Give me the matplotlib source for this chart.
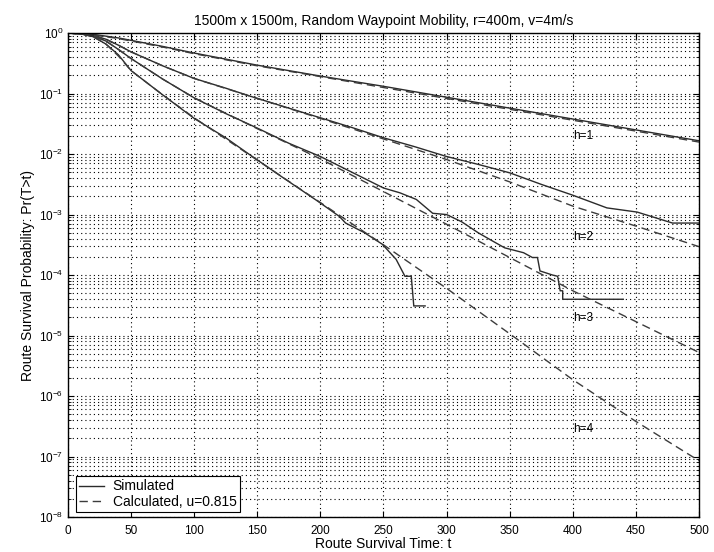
import matplotlib
matplotlib.use("Agg")
import matplotlib.pyplot as plt
from matplotlib.ticker import FixedLocator, LogLocator, MultipleLocator, NullFormatter

plt.rcParams["font.family"] = ["Liberation Sans", "DejaVu Sans"]
plt.rcParams["mathtext.default"] = "regular"

# --- values --------------------------------------------------------------
# simulated curves (t, Pr(T>t))
h1_sim_t = [0, 10, 20, 30, 40, 50, 75, 100, 150, 200, 250, 300, 350, 400, 450, 500]
h1_sim_p = [1.0, 0.977, 0.955, 0.891, 0.832, 0.759, 0.603, 0.468, 0.295, 0.195,
            0.132, 0.0871, 0.0575, 0.0380, 0.0251, 0.0166]

h2_sim_t = [0, 10, 20, 30, 40, 50, 75, 100, 125, 144, 175, 200, 225, 250, 275, 300,
            325, 350, 375, 400, 427, 451, 479, 500]
h2_sim_p = [1.0, 0.977, 0.912, 0.794, 0.631, 0.490, 0.288, 0.178, 0.123, 0.0912,
            0.0575, 0.0398, 0.0275, 0.0186, 0.0132, 9.12e-3, 6.76e-3, 4.90e-3,
            3.16e-3, 2.09e-3, 1.29e-3, 1.10e-3, 7.24e-4, 7.24e-4]

h3_sim_t = [0, 10, 20, 30, 40, 50, 75, 100, 125, 150, 175, 200, 225, 250, 263, 276,
            289, 300, 312, 325, 335, 346, 361, 368, 372, 374, 384, 388, 390, 392,
            392, 440]
h3_sim_p = [1.0, 0.977, 0.891, 0.741, 0.537, 0.380, 0.174, 0.0851, 0.0468, 0.0269,
            0.0151, 9.12e-3, 5.01e-3, 2.75e-3, 2.29e-3, 1.78e-3, 1.05e-3, 1.0e-3,
            7.59e-4, 5.01e-4, 3.80e-4, 2.82e-4, 2.34e-4, 1.95e-4, 1.95e-4,
            1.17e-4, 1.0e-4, 9.55e-5, 5.50e-5, 5.50e-5, 3.98e-5, 3.98e-5]

h4_sim_t = [0, 10, 20, 30, 40, 50, 75, 100, 125, 144, 169, 198, 215, 220, 235, 249,
            260, 267, 272, 274, 283]
h4_sim_p = [1.0, 0.977, 0.871, 0.661, 0.437, 0.240, 0.0955, 0.0389, 0.0186,
            9.77e-3, 4.27e-3, 1.66e-3, 9.33e-4, 7.24e-4, 5.01e-4, 3.24e-4,
            1.82e-4, 9.55e-5, 9.55e-5, 3.09e-5, 3.09e-5]

# calculated curves, u = 0.815
calc_t = [0, 10, 20, 30, 40, 50, 75, 100, 150, 200, 250, 300, 350, 400, 450, 500]
h1_calc_p = [1.0, 0.977, 0.933, 0.871, 0.813, 0.741, 0.589, 0.457, 0.288, 0.191,
             0.126, 0.0832, 0.0550, 0.0363, 0.0240, 0.0158]
h2_calc_p = [1.0, 0.977, 0.912, 0.794, 0.631, 0.490, 0.288, 0.178, 0.0832, 0.0389,
             0.0178, 8.13e-3, 3.47e-3, 1.38e-3, 6.46e-4, 2.95e-4]
h3_calc_p = [1.0, 0.977, 0.891, 0.741, 0.537, 0.380, 0.174, 0.0851, 0.0263,
             8.32e-3, 2.40e-3, 6.92e-4, 1.95e-4, 5.50e-5, 1.70e-5, 5.25e-6]
h4_calc_p = [1.0, 0.977, 0.871, 0.661, 0.417, 0.240, 0.0955, 0.0398, 7.94e-3,
             1.58e-3, 3.16e-4, 6.03e-5, 1.07e-5, 1.86e-6, 3.80e-7, 8.51e-8]

hop_labels = ["h=1", "h=2", "h=3", "h=4"]
label_t = [400, 400, 400, 400]
label_p = [2.0e-2, 4.3e-4, 1.95e-5, 2.8e-7]

y_ticks = [1e-8, 1e-7, 1e-6, 1e-5, 1e-4, 1e-3, 1e-2, 1e-1, 1e0]

# --- figure ---------------------------------------------------------------
fig = plt.figure(figsize=(7.14, 5.52), dpi=100)
ax = fig.add_axes([0.0952, 0.0634, 0.8838, 0.8766])

sim_style = dict(color="#2b2b2b", lw=1.0, solid_joinstyle="miter")
calc_style = dict(color="#3c3c3c", lw=1.0, dashes=(6, 3.5))

ax.plot(h1_sim_t, h1_sim_p, label="Simulated", **sim_style)
for t, p in [(h2_sim_t, h2_sim_p), (h3_sim_t, h3_sim_p), (h4_sim_t, h4_sim_p)]:
    ax.plot(t, p, **sim_style)

ax.plot(calc_t, h1_calc_p, label="Calculated, u=0.815", **calc_style)
for p in [h2_calc_p, h3_calc_p, h4_calc_p]:
    ax.plot(calc_t, p, **calc_style)

for lab, t, p in zip(hop_labels, label_t, label_p):
    ax.text(t, p, lab, fontsize=8.5, ha="left", va="center")

ax.set_yscale("log")
ax.set_xlim(0, 500)
ax.set_ylim(1e-8, 1)
ax.xaxis.set_major_locator(MultipleLocator(50))
ax.yaxis.set_major_locator(FixedLocator(y_ticks))
ax.yaxis.set_minor_locator(LogLocator(base=10, subs=range(2, 10), numticks=12))
ax.yaxis.set_minor_formatter(NullFormatter())

grid_kw = dict(color="k", lw=0.8, linestyle=(0, (1, 2.8)))
ax.grid(True, which="both", axis="y", **grid_kw)
ax.grid(True, which="major", axis="x", **grid_kw)

ax.tick_params(which="both", direction="in", top=True, right=True, labelsize=8.5)
ax.tick_params(which="major", length=4)
ax.tick_params(which="minor", length=2)
ax.tick_params(axis="x", pad=6)
for s in ax.spines.values():
    s.set_linewidth(1.0)

ax.set_title("1500m x 1500m, Random Waypoint Mobility, r=400m, v=4m/s",
             fontsize=10, pad=6)
ax.set_xlabel("Route Survival Time: t", fontsize=10, labelpad=0)
ax.set_ylabel("Route Survival Probability: Pr(T>t)", fontsize=10, labelpad=3)

leg = ax.legend(loc="lower left", bbox_to_anchor=(0.0127, 0.0103), fontsize=10,
                frameon=True, fancybox=False, edgecolor="k", framealpha=1,
                handlelength=1.8, handletextpad=0.6, borderpad=0.25,
                labelspacing=0.08, borderaxespad=0)
leg.get_frame().set_linewidth(0.8)

fig.savefig("out.png", dpi=100)
